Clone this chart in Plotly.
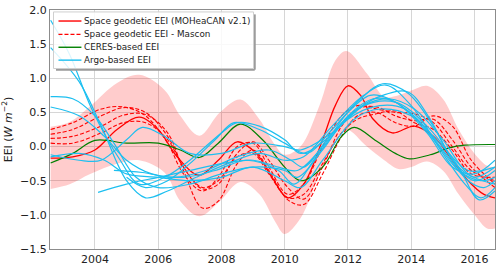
import plotly.graph_objects as go

# ---------------- data ----------------
band_years = [2002.6, 2003.2, 2003.85, 2004.7, 2005.4, 2006.2, 2006.7, 2007.3, 2007.95, 2008.6, 2009.2,
              2009.7, 2010.0, 2010.5, 2011.1, 2011.6, 2011.95, 2012.6, 2013.15, 2013.6, 2014.0, 2014.5,
              2015.0, 2015.5, 2016.0, 2016.4, 2016.65]
band_upper = [0.29, 0.36, 0.59, 0.93, 1.05, 0.83, 0.45, 0.16, 0.50, 0.69, 0.40,
              0.02, -0.12, 0.0, 0.60, 1.26, 1.40, 1.07, 0.73, 0.75, 0.82, 0.89,
              0.70, 0.25, -0.10, -0.28, -0.30]
band_lower = [-0.62, -0.55, -0.40, -0.25, -0.20, -0.38, -0.80, -1.02, -0.80, -0.52, -0.70,
              -1.10, -1.28, -1.05, -0.40, 0.05, 0.25, 0.00, -0.20, -0.33, -0.30, -0.22,
              -0.35, -0.70, -1.00, -1.20, -1.20]

moheacan_years = [2002.6, 2003.3, 2004.0, 2004.7, 2005.4, 2006.0, 2006.6, 2007.3, 2007.9, 2008.5,
                  2009.1, 2009.6, 2010.1, 2010.6, 2011.2, 2011.6, 2012.0, 2012.4, 2012.8, 2013.4,
                  2014.1, 2014.7, 2015.3, 2015.8, 2016.3, 2016.65]
moheacan = [-0.17, -0.15, -0.05, 0.25, 0.43, 0.25, -0.15, -0.42, -0.20, 0.07,
            -0.10, -0.45, -0.75, -0.55, 0.10, 0.60, 0.89, 0.75, 0.40, 0.20,
            0.30, 0.15, -0.20, -0.50, -0.70, -0.75]

mascon_years = [2002.6, 2003.3, 2004.2, 2004.9, 2005.6, 2006.3, 2006.8, 2007.4, 2007.9, 2008.5,
                2009.0, 2009.5, 2010.1, 2010.6, 2011.2, 2011.8, 2012.3, 2012.9, 2013.5, 2014.1,
                2014.7, 2015.3, 2015.9, 2016.65]
mascon_1 = [0.25, 0.35, 0.55, 0.58, 0.45, 0.05, -0.40, -0.65, -0.45, 0.00, 0.05, -0.30, -0.70, -0.55,
            0.00, 0.45, 0.60, 0.55, 0.50, 0.48, 0.35, 0.00, -0.35, -0.50]
mascon_2 = [0.18, 0.25, 0.45, 0.57, 0.50, 0.15, -0.30, -0.62, -0.55, -0.10, 0.07, -0.20, -0.60, -0.77,
            -0.30, 0.30, 0.55, 0.58, 0.45, 0.38, 0.40, 0.10, -0.30, -0.60]
mascon_3 = [0.12, 0.15, 0.30, 0.46, 0.47, 0.20, -0.35, -0.90, -0.80, -0.25, -0.05, -0.35, -0.78, -0.85,
            -0.40, 0.15, 0.45, 0.50, 0.35, 0.30, 0.45, 0.30, -0.20, -0.55]
mascon_4 = [0.05, 0.05, 0.20, 0.35, 0.35, 0.10, -0.30, -0.60, -0.50, -0.15, -0.10, -0.40, -0.75, -0.70,
            -0.25, 0.20, 0.40, 0.48, 0.52, 0.35, 0.25, -0.05, -0.40, -0.45]

ceres_years = [2002.6, 2003.3, 2004.0, 2005.0, 2006.0, 2006.7, 2007.3, 2007.9, 2008.6, 2009.3,
               2010.0, 2010.5, 2011.2, 2011.8, 2012.2, 2012.9, 2013.5, 2013.95, 2014.6, 2015.2,
               2015.7, 2016.65]
ceres = [-0.24, -0.10, 0.09, 0.05, 0.05, -0.05, -0.16, 0.05, 0.33, 0.10,
         -0.30, -0.50, -0.30, 0.15, 0.28, 0.08, -0.10, -0.18, -0.12, -0.02,
         0.02, 0.03]

argo_1_years = [2002.6, 2003.5, 2004.2, 2005.0, 2005.6, 2006.3, 2007.2, 2008.2, 2009.2, 2010.0, 2010.6,
                2011.5, 2012.5, 2013.2, 2014.0, 2015.0, 2015.7, 2016.2, 2016.65]
argo_1 = [1.45, 0.95, 0.30, -0.50, -0.75, -0.65, -0.45, -0.25, -0.10, -0.20, -0.15,
          0.30, 0.75, 0.90, 0.60, -0.10, -0.55, -0.75, -0.60]
argo_2_years = [2002.6, 2003.2, 2003.9, 2004.8, 2005.4, 2006.2, 2007.0, 2008.0, 2008.5, 2009.2, 2010.0,
                2010.5, 2011.3, 2012.3, 2013.1, 2013.9, 2014.6, 2015.3, 2016.0, 2016.65]
argo_2 = [1.85, 1.35, 0.55, -0.20, -0.55, -0.45, -0.20, 0.20, 0.35, 0.30, 0.10,
          -0.10, 0.10, 0.55, 0.75, 0.80, 0.40, -0.20, -0.50, -0.35]
argo_3_years = [2002.6, 2003.3, 2004.0, 2004.6, 2005.3, 2006.0, 2007.0, 2008.0, 2009.0, 2010.0, 2010.4,
                2011.2, 2012.0, 2012.8, 2013.5, 2014.5, 2015.3, 2016.0, 2016.65]
argo_3 = [0.73, 0.70, 0.45, 0.05, -0.45, -0.60, -0.55, -0.40, -0.30, -0.35, -0.45,
          -0.05, 0.45, 0.70, 0.65, 0.20, -0.30, -0.40, -0.20]
argo_4_years = [2002.6, 2003.5, 2004.3, 2005.0, 2005.8, 2006.8, 2007.8, 2008.8, 2009.8, 2010.3, 2011.0,
                2012.0, 2013.0, 2013.8, 2014.8, 2015.5, 2016.2, 2016.65]
argo_4 = [0.58, 0.45, 0.15, -0.20, -0.40, -0.45, -0.35, -0.20, -0.35, -0.55, -0.15,
          0.40, 0.60, 0.55, 0.05, -0.35, -0.50, -0.45]
argo_5_years = [2002.6, 2003.5, 2004.2, 2005.0, 2005.5, 2006.2, 2007.0, 2008.0, 2009.0, 2010.0, 2010.5,
                2011.5, 2012.5, 2013.3, 2014.1, 2015.0, 2015.8, 2016.65]
argo_5 = [-0.12, -0.20, -0.20, 0.10, 0.28, 0.15, -0.10, -0.10, 0.05, 0.00, -0.05,
          0.20, 0.60, 0.70, 0.55, 0.10, -0.40, -0.55]
argo_6_years = [2002.6, 2003.5, 2004.3, 2005.0, 2006.0, 2007.0, 2008.0, 2009.0, 2010.0, 2010.5, 2011.2,
                2012.2, 2013.0, 2014.0, 2015.0, 2015.8, 2016.65]
argo_6 = [-0.15, -0.10, -0.20, -0.40, -0.45, -0.50, -0.45, -0.30, -0.50, -0.60, -0.20,
          0.40, 0.55, 0.45, 0.00, -0.35, -0.30]
argo_7_years = [2004.1, 2005.0, 2006.0, 2007.0, 2008.0, 2009.0, 2009.8, 2010.4, 2011.2, 2012.0, 2012.7,
                2013.3, 2014.2, 2015.0, 2015.8, 2016.3, 2016.65]
argo_7 = [-0.67, -0.55, -0.45, -0.35, -0.25, -0.20, -0.30, -0.35, 0.00, 0.50, 0.75,
          0.70, 0.40, -0.05, -0.50, -0.60, -0.50]
argo_8_years = [2004.6, 2005.5, 2006.5, 2007.5, 2008.5, 2009.5, 2010.2, 2010.6, 2011.5, 2012.5, 2013.5,
                2014.5, 2015.5, 2016.15, 2016.65]
argo_8 = [-0.35, -0.38, -0.45, -0.35, -0.15, -0.05, -0.20, -0.30, 0.20, 0.60, 0.65,
          0.30, -0.30, -0.78, -0.65]
argo_9_years = [2005.0, 2005.6, 2006.3, 2007.0, 2007.8, 2008.4, 2009.2, 2010.0, 2010.7, 2011.5, 2012.4,
                2013.1, 2013.9, 2014.7, 2015.4, 2016.0, 2016.65]
argo_9 = [-0.45, -0.60, -0.50, -0.25, 0.10, 0.35, 0.25, 0.05, -0.10, 0.25, 0.70,
          0.92, 0.78, 0.30, -0.25, -0.45, -0.30]

legend_labels = ["Space geodetic EEI (MOHeaCAN v2.1)", "Space geodetic EEI - Mascon",
                 "CERES-based EEI", "Argo-based EEI"]

# ---------------- figure ----------------
RED = "#ff0000"
GREEN = "#008000"
BLUE = "#1cbff0"
W, H = 500, 270
ML, MR, MT, MB = 50, 4, 8, 17
PW, PH = W - ML - MR, H - MT - MB


def px(x):  # pixel -> paper x
    return (x - ML) / PW


def py(y):  # pixel -> paper y
    return (H - MB - y) / PH


fig = go.Figure()

fig.add_trace(go.Scatter(x=band_years, y=band_lower, mode="lines", line=dict(width=0, shape="spline"),
                         showlegend=False, hoverinfo="skip"))
fig.add_trace(go.Scatter(x=band_years, y=band_upper, mode="lines", line=dict(width=0, shape="spline"),
                         fill="tonexty", fillcolor="rgba(255,0,0,0.2)", showlegend=False, hoverinfo="skip"))

argo = [(argo_1_years, argo_1), (argo_2_years, argo_2), (argo_3_years, argo_3), (argo_4_years, argo_4),
        (argo_5_years, argo_5), (argo_6_years, argo_6), (argo_7_years, argo_7), (argo_8_years, argo_8),
        (argo_9_years, argo_9)]

fig.add_trace(go.Scatter(x=moheacan_years, y=moheacan, mode="lines", name=legend_labels[0], showlegend=False,
                         line=dict(color=RED, width=1.3, shape="spline")))
for m in [mascon_1, mascon_2, mascon_3, mascon_4]:
    fig.add_trace(go.Scatter(x=mascon_years, y=m, mode="lines", name=legend_labels[1], showlegend=False,
                             line=dict(color=RED, width=1.1, dash="4px,2px", shape="spline")))
fig.add_trace(go.Scatter(x=ceres_years, y=ceres, mode="lines", name=legend_labels[2], showlegend=False,
                         line=dict(color=GREEN, width=1.2, shape="spline")))
for yrs, vals in argo:
    fig.add_trace(go.Scatter(x=yrs, y=vals, mode="lines", name=legend_labels[3], showlegend=False,
                             line=dict(color=BLUE, width=1.2, shape="spline")))

# ---- legend box (drawn like matplotlib's) ----
shapes = []
lx0, lx1, ly0, ly1 = 53.5, 254, 10, 68
shapes.append(dict(type="line", xref="paper", yref="paper", layer="above",
                   x0=px(lx1 + 1.2), x1=px(lx1 + 1.2), y0=py(ly0 + 2.5), y1=py(ly1 + 1.2),
                   line=dict(color="#9a9a9a", width=2)))
shapes.append(dict(type="line", xref="paper", yref="paper", layer="above",
                   x0=px(lx0 + 2.5), x1=px(lx1 + 1.2), y0=py(ly1 + 1.2), y1=py(ly1 + 1.2),
                   line=dict(color="#9a9a9a", width=2)))
shapes.append(dict(type="rect", xref="paper", yref="paper", layer="above",
                   x0=px(lx0), x1=px(lx1), y0=py(ly1), y1=py(ly0),
                   fillcolor="rgba(255,255,255,0.85)", line=dict(color="#cfcfcf", width=1)))
row_y = [19.3, 33.0, 46.2, 59.4]
styles = [(RED, "solid"), (RED, "4px,2px"), (GREEN, "solid"), (BLUE, "solid")]
annotations = []
for label, yy, (col, dash) in zip(legend_labels, row_y, styles):
    shapes.append(dict(type="line", xref="paper", yref="paper", layer="above",
                       x0=px(58.5), x1=px(81.5), y0=py(yy), y1=py(yy),
                       line=dict(color=col, width=1.4, dash=dash)))
    annotations.append(dict(text=label, xref="paper", yref="paper", x=px(82), y=py(yy),
                            xanchor="left", yanchor="middle", showarrow=False,
                            font=dict(size=8.8, family="DejaVu Sans", color="#222")))

fig.update_layout(
    width=W, height=H,
    margin=dict(l=ML, r=MR, t=MT, b=MB),
    paper_bgcolor="white", plot_bgcolor="white",
    font=dict(family="DejaVu Sans", size=11, color="#222"),
    showlegend=False,
    shapes=shapes, annotations=annotations,
)
fig.update_xaxes(range=[2002.58, 2016.65], tickvals=[2004, 2006, 2008, 2010, 2012, 2014, 2016],
                 showgrid=True, gridcolor="#d6d6d6", gridwidth=1, zeroline=False,
                 showline=True, linecolor="#8c8c8c", linewidth=1, mirror=True,
                 ticks="", tickfont=dict(size=11))
fig.update_yaxes(range=[-1.5, 2.0], tickvals=[-1.5, -1.0, -0.5, 0.0, 0.5, 1.0, 1.5, 2.0],
                 ticktext=["\u22121.5", "\u22121.0", "\u22120.5", "0.0", "0.5", "1.0", "1.5", "2.0"],
                 showgrid=True, gridcolor="#d6d6d6", gridwidth=1, zeroline=False,
                 showline=True, linecolor="#8c8c8c", linewidth=1, mirror=True,
                 ticks="", tickfont=dict(size=11),
                 title=dict(text="EEI (<i>W m</i><sup>\u22122</sup>)", font=dict(size=11), standoff=8))

fig.write_html("out.html", config={"displayModeBar": False},
               post_script="document.body.style.margin='0';document.body.style.padding='0';")
